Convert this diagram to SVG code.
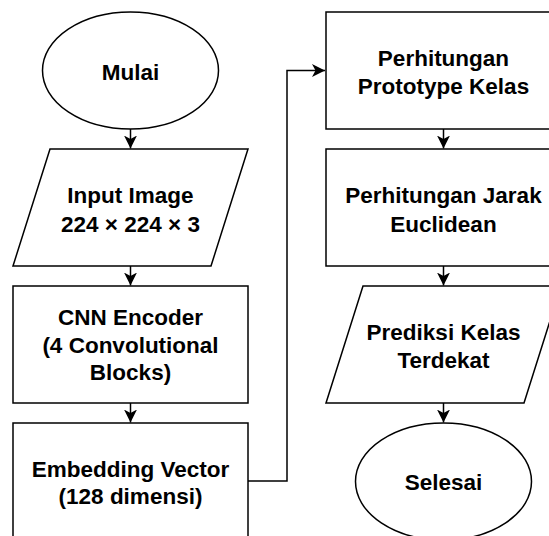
<svg xmlns="http://www.w3.org/2000/svg" width="549" height="536" viewBox="0 0 549 536">
  <style>
    .shape { fill: #ffffff; stroke: #000000; stroke-width: 1.5; }
    .edge { fill: none; stroke: #000000; stroke-width: 1.5; }
    .label { font-family: "Liberation Sans", Arial, sans-serif; font-size: 22.5px; font-weight: bold; fill: #000000; text-anchor: middle; }
  </style>
  <defs>
    <marker id="arrow" viewBox="0 0 13 13" refX="13" refY="6.5" markerWidth="13" markerHeight="13" markerUnits="userSpaceOnUse" orient="auto">
      <path d="M0,0 L13,6.5 L0,13 L3.5,6.5 Z" fill="#000000"/>
    </marker>
  </defs>
  <rect width="549" height="536" fill="#ffffff"/>

  <g id="connectors">
    <line class="edge" x1="130.5" y1="129" x2="130.5" y2="148.5" marker-end="url(#arrow)"/>
    <line class="edge" x1="130.5" y1="266" x2="130.5" y2="285.5" marker-end="url(#arrow)"/>
    <line class="edge" x1="130.5" y1="403" x2="130.5" y2="422.5" marker-end="url(#arrow)"/>
    <path class="edge" d="M248,481 H287 V70.5 H325" marker-end="url(#arrow)"/>
    <line class="edge" x1="443.5" y1="129" x2="443.5" y2="148.5" marker-end="url(#arrow)"/>
    <line class="edge" x1="443.5" y1="266" x2="443.5" y2="285.5" marker-end="url(#arrow)"/>
    <line class="edge" x1="443.5" y1="403" x2="443.5" y2="422.5" marker-end="url(#arrow)"/>
  </g>

  <g id="node-mulai">
    <ellipse class="shape" cx="130.5" cy="70.5" rx="88" ry="58.5"/>
    <text class="label" x="130.5" y="79.5">Mulai</text>
  </g>

  <g id="node-input">
    <polygon class="shape" points="50,149 248,149 211,266 13,266"/>
    <text class="label" x="130.5" y="203">Input Image</text>
    <text class="label" x="130.5" y="231.5">224 × 224 × 3</text>
  </g>

  <g id="node-cnn">
    <rect class="shape" x="13" y="286" width="235" height="117"/>
    <text class="label" x="130.5" y="325">CNN Encoder</text>
    <text class="label" x="130.5" y="352.5">(4 Convolutional</text>
    <text class="label" x="130.5" y="380">Blocks)</text>
  </g>

  <g id="node-embedding">
    <rect class="shape" x="13" y="423" width="235" height="117"/>
    <text class="label" x="130.5" y="476.5">Embedding Vector</text>
    <text class="label" x="130.5" y="503.5">(128 dimensi)</text>
  </g>

  <g id="node-prototype">
    <rect class="shape" x="326" y="12" width="235" height="117"/>
    <text class="label" x="443.5" y="65.5">Perhitungan</text>
    <text class="label" x="443.5" y="94">Prototype Kelas</text>
  </g>

  <g id="node-jarak">
    <rect class="shape" x="326" y="149" width="235" height="117"/>
    <text class="label" x="443.5" y="203">Perhitungan Jarak</text>
    <text class="label" x="443.5" y="231.5">Euclidean</text>
  </g>

  <g id="node-prediksi">
    <polygon class="shape" points="363,286 561,286 524,403 326,403"/>
    <text class="label" x="443.5" y="340">Prediksi Kelas</text>
    <text class="label" x="443.5" y="367.5">Terdekat</text>
  </g>

  <g id="node-selesai">
    <ellipse class="shape" cx="443.5" cy="481.5" rx="88" ry="58.5"/>
    <text class="label" x="443.5" y="490">Selesai</text>
  </g>
</svg>
